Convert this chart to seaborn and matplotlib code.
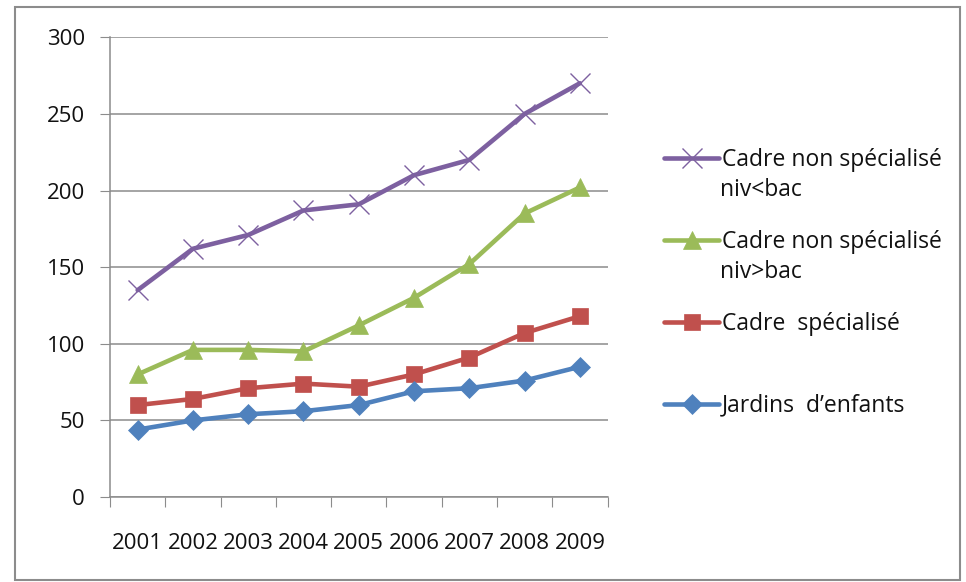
import pandas as pd
import seaborn as sns
import matplotlib.pyplot as plt
from matplotlib.patches import Rectangle

# Data
years = ["2001", "2002", "2003", "2004", "2005", "2006", "2007", "2008", "2009"]
cadre_inf_bac = [135, 162, 171, 187, 191, 210, 220, 250, 270]
cadre_sup_bac = [80, 96, 96, 95, 112, 130, 152, 185, 202]
cadre_spec = [60, 64, 71, 74, 72, 80, 91, 107, 118]
jardins = [44, 50, 54, 56, 60, 69, 71, 76, 85]

series = {
    "Cadre non spécialisé": cadre_inf_bac,
    "Cadre non spécialisé ": cadre_sup_bac,
    "Cadre  spécialisé": cadre_spec,
    "Jardins  d\u2019enfants": jardins,
}
colors = ["#7D60A0", "#9BBB59", "#C0504D", "#4F81BD"]
markers = ["x", "^", "s", "D"]
msizes = [14, 13, 12, 10]

rows = []
for name, vals in series.items():
    for i, v in enumerate(vals):
        rows.append({"pos": i, "serie": name, "valeur": v})
df = pd.DataFrame(rows)

sns.set_style("white")
plt.rcParams["font.family"] = ["Open Sans", "DejaVu Sans"]

fig = plt.figure(figsize=(9.66, 5.82), dpi=100)
ax = fig.add_axes([0.1139, 0.146, 0.515, 0.79])

for (name, vals), c, m, ms in zip(series.items(), colors, markers, msizes):
    sub = df[df["serie"] == name]
    sns.lineplot(data=sub, x="pos", y="valeur", ax=ax, color=c, marker=m,
                 markersize=ms, linewidth=3.3, markeredgecolor=c,
                 markeredgewidth=1.0 if m == "x" else 0.5, label=name)

ax.set_xlim(-0.5, len(years) - 0.5)
ax.set_ylim(0, 300)
ax.set_yticks(range(0, 301, 50))
ax.yaxis.grid(True, color="#8C8C8C", linewidth=1.1)
ax.set_xticks([i - 0.5 for i in range(len(years) + 1)])
ax.set_xticklabels([])
ax.set_xticks(range(len(years)), minor=True)
ax.set_xticklabels(years, minor=True)
ax.tick_params(axis="x", which="major", length=7, color="#8C8C8C", direction="out", bottom=True)
ax.tick_params(axis="x", which="minor", length=0, pad=26, labelsize=16, labelcolor="#111111")
ax.tick_params(axis="y", length=7, color="#8C8C8C", direction="out", labelsize=16,
               labelcolor="#111111", pad=11, left=True)
for s in ["top", "right"]:
    ax.spines[s].set_visible(False)
for s in ["left", "bottom"]:
    ax.spines[s].set_color("#8C8C8C")
    ax.spines[s].set_linewidth(1.1)
ax.set_xlabel("")
ax.set_ylabel("")

# legend: first lines as entries, second lines added below
handles, labels = ax.get_legend_handles_labels()
ax.legend_.remove()
leg = fig.legend(handles, [l.strip() for l in labels], loc="upper left",
                 bbox_to_anchor=(0.676, 0.7646), frameon=False, fontsize=16.5,
                 handlelength=2.4, handletextpad=0.1, labelspacing=2.52,
                 borderpad=0, labelcolor="#111111")
fig.text(0.745, 0.6735, "niv<bac", fontsize=16.5, color="#111111", va="center")
fig.text(0.745, 0.5326, "niv>bac", fontsize=16.5, color="#111111", va="center")

# outer frame of the chart
fig.patches.append(Rectangle((0.016, 0.003), 0.978, 0.985, transform=fig.transFigure,
                             fill=False, edgecolor="#8C8C8C", linewidth=1.5))

fig.savefig("out.png", dpi=100)
